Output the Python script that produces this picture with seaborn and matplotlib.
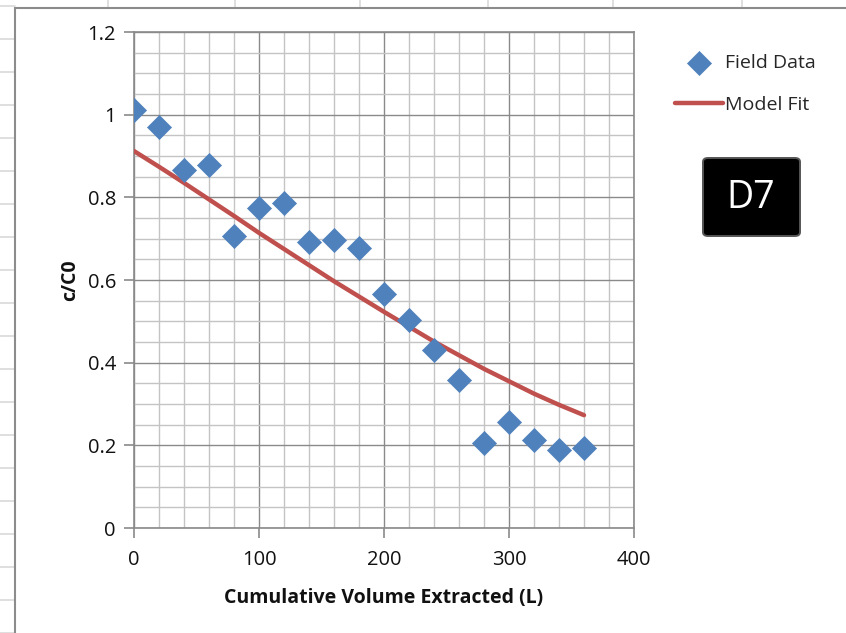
import matplotlib
matplotlib.use("Agg")
import matplotlib.pyplot as plt
from matplotlib.lines import Line2D
from matplotlib.patches import FancyBboxPatch, Rectangle
from matplotlib.ticker import MultipleLocator, FixedLocator
import seaborn as sns
import pandas as pd

# Field measurements
volume = [0, 20, 40, 60, 80, 100, 120, 140, 160, 180, 200, 220, 240, 260, 280, 300, 320, 340, 360]
field_c = [1.011, 0.970, 0.866, 0.878, 0.706, 0.774, 0.786, 0.692, 0.697, 0.677,
           0.566, 0.503, 0.431, 0.358, 0.206, 0.256, 0.213, 0.189, 0.194]
# Model fit curve
model_c = [0.912, 0.874, 0.835, 0.795, 0.755, 0.714, 0.675, 0.636, 0.597, 0.560,
           0.523, 0.487, 0.451, 0.418, 0.385, 0.355, 0.325, 0.298, 0.273]
x_ticks = [0, 100, 200, 300, 400]
y_ticks = [0, 0.2, 0.4, 0.6, 0.8, 1.0, 1.2]
y_tick_labels = ["0", "0.2", "0.4", "0.6", "0.8", "1", "1.2"]

df = pd.DataFrame({"volume": volume, "field": field_c, "model": model_c})

sns.set_theme(style="white")
plt.rcParams["font.family"] = ["Open Sans", "DejaVu Sans"]

W, H = 846, 633
fig = plt.figure(figsize=(W / 100, H / 100), dpi=100)
fig.patch.set_facecolor("white")


def fx(px):
    return px / W


def fy(py):
    return 1 - py / H


# spreadsheet cells behind the chart
cell = "#d9d9d9"
for yy in range(6, 640, 33):
    fig.add_artist(Line2D([0, fx(15)], [fy(yy), fy(yy)], color=cell, lw=1.2, zorder=-3))
for xx in [108, 235, 360, 488, 613, 742]:
    fig.add_artist(Line2D([fx(xx), fx(xx)], [fy(0), fy(7)], color=cell, lw=1.2, zorder=-3))
# chart area border
fig.add_artist(Rectangle((fx(15), fy(660)), fx(900), fy(8) - fy(660),
                         facecolor="white", edgecolor="#8c8c8c", lw=1.5,
                         transform=fig.transFigure, zorder=-2))

ax = fig.add_axes([fx(134), fy(528), fx(634) - fx(134), fy(32) - fy(528)])
ax.set_facecolor("white")

sns.lineplot(data=df, x="volume", y="model", ax=ax, color="#C0504D", lw=3.2,
             label="Model Fit", zorder=3)
sns.scatterplot(data=df, x="volume", y="field", ax=ax, marker="D", s=150,
                color="#4F81BD", edgecolor="#4F81BD", linewidth=0.5,
                label="Field Data", zorder=4)

ax.set_xlim(0, 400)
ax.set_ylim(0, 1.2)
ax.xaxis.set_major_locator(FixedLocator(x_ticks))
ax.yaxis.set_major_locator(FixedLocator(y_ticks))
ax.set_yticklabels(y_tick_labels)
ax.xaxis.set_minor_locator(MultipleLocator(20))
ax.yaxis.set_minor_locator(MultipleLocator(0.05))
ax.grid(which="minor", color="#c4c4c4", lw=1.0)
ax.grid(which="major", color="#8a8a8a", lw=1.0)
ax.set_axisbelow(True)
for sp in ax.spines.values():
    sp.set_color("#8a8a8a")
    sp.set_linewidth(1.2)

ax.tick_params(which="major", direction="out", length=7, width=1.2, color="#8a8a8a",
               labelsize=14.5, labelcolor="#111111", left=True, bottom=True)
ax.tick_params(axis="y", pad=6)
ax.tick_params(axis="x", pad=9)
ax.tick_params(which="minor", length=0)

ax.set_xlabel("Cumulative Volume Extracted (L)", fontsize=14, fontweight="bold",
              color="#111111", labelpad=13)
ax.set_ylabel("c/C0", fontsize=14, fontweight="bold", color="#111111", labelpad=5)

handles, labels = ax.get_legend_handles_labels()
order = [labels.index("Field Data"), labels.index("Model Fit")]
leg = ax.legend([handles[i] for i in order], [labels[i] for i in order],
                loc="upper left", bbox_to_anchor=(fx(667), fy(46)),
                bbox_transform=fig.transFigure, frameon=False, fontsize=14,
                handlelength=2.5, handletextpad=0.1, labelspacing=1.25,
                borderaxespad=0)

# label box
box = FancyBboxPatch((fx(703), fy(236)), fx(800) - fx(703), fy(158) - fy(236),
                     boxstyle="round,pad=0,rounding_size=0.006",
                     transform=fig.transFigure, facecolor="black",
                     edgecolor="#555555", lw=1.4, zorder=5)
fig.add_artist(box)
fig.text(fx(751), fy(198), "D7", color="white", fontsize=27, ha="center",
         va="center", zorder=6)

fig.savefig("out.png", dpi=100)
